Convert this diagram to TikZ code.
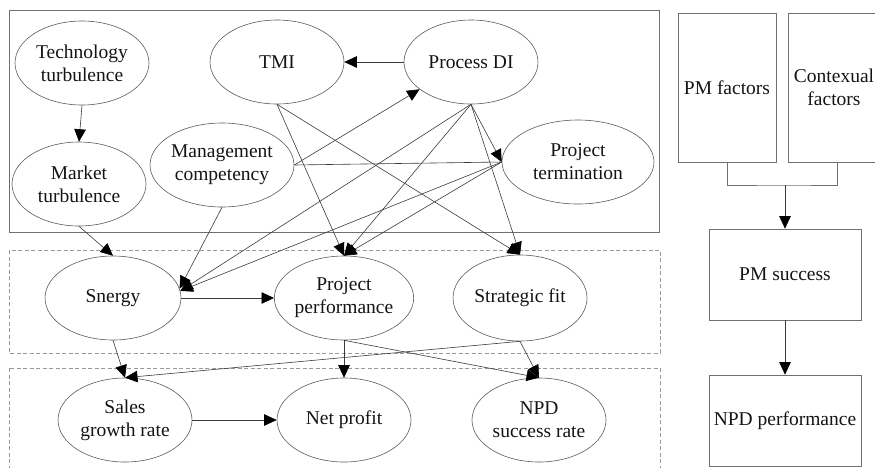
\documentclass[tikz,border=0pt]{standalone}
\usepackage{fontspec}
\setmainfont{Liberation Serif}
\usetikzlibrary{shapes.geometric,arrows.meta}
\definecolor{edgegray}{HTML}{3A3A3A}
\definecolor{ovalgray}{HTML}{5A5A5A}
\definecolor{framegray}{HTML}{707070}
\definecolor{dashgray}{HTML}{9A9A9A}
\begin{document}
\begin{tikzpicture}[x=1pt,y=-1pt,
  every node/.style={font=\fontsize{19.5}{23}\selectfont,text=black!92},
  oval/.style={ellipse,draw=ovalgray,line width=0.6pt,inner sep=0pt,
    minimum width=134pt,minimum height=84pt,align=center},
  blockbox/.style={rectangle,draw=framegray,line width=0.7pt,inner sep=0pt,align=center},
  link/.style={draw=edgegray,line width=0.6pt},
  arr/.style={link,-{Triangle[length=12.5pt,width=11.5pt,color=black]}},
  frame/.style={draw=framegray,line width=0.8pt},
  dframe/.style={draw=dashgray,line width=0.8pt,dash pattern=on 4pt off 2.5pt}
]
\useasboundingbox (0,0) rectangle (875,467);
\clip (0,0) rectangle (875,467);

% group frames
\draw[frame]  (9,10) rectangle (659,232);
\draw[dframe] (9,250) rectangle (660,353);
\draw[dframe] (9,368) rectangle (660,480);

% top group
\node[oval] (tt)  at (82,63)   {Technology\\turbulence};
\node[oval] (mt)  at (79,184)  {Market\\turbulence};
\node[oval,minimum width=141pt] (mc) at (222,165) {Management\\competency};
\node[oval] (tmi) at (277,62)  {TMI};
\node[oval] (pdi) at (471,62)  {Process DI};
\node[oval,minimum width=152pt] (pt) at (578,162) {Project\\termination};

% middle group
\node[oval,minimum width=136pt] (sn) at (113,298) {Snergy};
\node[oval] (pp)  at (344,298) {Project\\performance};
\node[oval,minimum height=86pt] (sf) at (520,298) {Strategic fit};

% outcome group
\node[oval] (sg)  at (125,420) {Sales\\growth rate};
\node[oval] (np)  at (344,420) {Net profit};
\node[oval] (npd) at (539,420) {NPD\\success rate};

% connectors
\draw[arr] (tt.south) -- (mt.north);
\draw[arr] (pdi.west) -- (tmi.east);
\draw[arr] (mc.east) -- (pdi.208);
\draw[link] (mc.east) -- (pt.west);
\draw[arr] (pdi.south) -- (pt.west);
\draw[arr] (pdi.south) -- (sn.6);
\draw[arr] (pt.west) -- (sn.6);
\draw[arr] (mc.south) -- (sn.8);
\draw[arr] (tmi.south) -- (pp.north);
\draw[arr] (pdi.south) -- (pp.north);
\draw[arr] (pt.west) -- (pp.north);
\draw[arr] (tmi.south) -- (sf.north);
\draw[arr] (pdi.south) -- (sf.north);
\draw[arr] (mt.south) -- (sn.north);
\draw[arr] (sn.east) -- (pp.west);
\draw[arr] (sn.south) -- (sg.north);
\draw[arr] (sf.south) -- (sg.north);
\draw[arr] (pp.south) -- (np.north);
\draw[arr] (pp.south) -- (npd.north);
\draw[arr] (sf.south) -- (npd.north);
\draw[arr] (sg.east) -- (np.west);

% summary flow on the right
\node[blockbox,minimum width=98pt,minimum height=149pt] (pmf) at (727,87.5) {PM factors};
\node[blockbox,minimum width=98pt,minimum height=149pt] (ctx) at (837,87.5) {};
\node[align=center] (ctxt) at (834,87.5) {Contexual\\factors};
\node[blockbox,minimum width=152pt,minimum height=91pt] (pms) at (785,274.5) {PM success};
\node[blockbox,minimum width=152pt,minimum height=91pt] (npp) at (785,420.5) {NPD performance};
\coordinate (jn) at (785,185);
\draw[draw=framegray,line width=0.7pt] (pmf.south) |- (jn) -| (ctx.south);
\draw[arr] (jn) -- (pms.north);
\draw[arr] (pms.south) -- (npp.north);
\end{tikzpicture}
\end{document}
